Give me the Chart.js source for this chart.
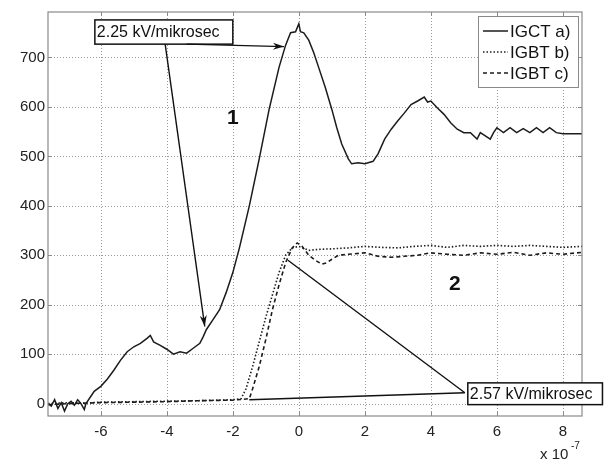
<!DOCTYPE html>
<html>
<head>
<meta charset="utf-8">
<script src="https://cdn.jsdelivr.net/npm/chart.js@4.4.1/dist/chart.umd.min.js"></script>
<style>
  html, body { margin: 0; padding: 0; background: #fff; }
  #wrap { width: 605px; height: 462px; position: relative; }
</style>
</head>
<body>
<div id="wrap"><canvas id="chart" width="605" height="462"></canvas></div>
<script>
// time axis in units of 1e-7 s, voltage in V
const xTicks = [-6, -4, -2, 0, 2, 4, 6, 8];
const yTicks = [0, 100, 200, 300, 400, 500, 600, 700];
const seriesLabels = ['IGCT a)', 'IGBT b)', 'IGBT c)'];

const igctT = [-7.6, -7.5, -7.4, -7.3, -7.2, -7.1, -7.0, -6.9, -6.8, -6.7, -6.6, -6.5, -6.45,
  -6.3, -6.2, -6.0, -5.8, -5.6, -5.4, -5.2, -5.0, -4.8, -4.6, -4.5, -4.4, -4.2, -4.0, -3.8,
  -3.6, -3.4, -3.2, -3.0, -2.9, -2.8, -2.6, -2.4, -2.2, -2.0, -1.8, -1.5, -1.2, -0.9, -0.6,
  -0.4, -0.25, -0.1, 0.0, 0.05, 0.15, 0.3, 0.45, 0.6, 0.8, 1.0, 1.15, 1.3, 1.5, 1.6, 1.8,
  2.0, 2.25, 2.4, 2.6, 2.8, 3.0, 3.2, 3.4, 3.6, 3.8, 3.9, 4.0, 4.2, 4.4, 4.6, 4.8, 5.0, 5.2,
  5.4, 5.5, 5.8, 5.9, 6.0, 6.2, 6.4, 6.6, 6.8, 7.0, 7.2, 7.4, 7.6, 7.8, 8.0, 8.58];
const igctV = [0, -5, 8, -10, 2, -15, 0, 5, -3, 8, 0, -12, 0,
  15, 25, 35, 50, 68, 88, 105, 115, 122, 132, 138, 125, 118, 110, 100,
  105, 102, 112, 122, 135, 150, 170, 190, 225, 265, 315, 400, 495, 595, 680,
  725, 750, 752, 768, 752, 750, 735, 710, 680, 640, 595, 558, 525, 495, 485, 487,
  485, 490, 505, 535, 555, 572, 588, 605, 612, 620, 610, 612, 598, 585, 568, 555, 548, 548,
  535, 548, 535, 548, 558, 548, 558, 548, 556, 548, 558, 548, 558, 548, 546, 546];

const igbtBT = [-7.6, -7.0, -6.5, -6.0, -5.0, -4.0, -3.0, -2.0, -1.75, -1.6, -1.4, -1.2, -1.0,
  -0.8, -0.6, -0.4, -0.2, 0.0, 0.3, 0.6, 1.0, 1.5, 2.0, 2.5, 3.0, 3.5, 4.0, 4.5, 5.0, 5.5,
  6.0, 6.5, 7.0, 7.5, 8.0, 8.58];
const igbtBV = [0, 2, 1, 3, 4, 5, 6, 8, 10, 30, 75, 125, 175,
  220, 265, 300, 315, 318, 310, 312, 313, 315, 318, 316, 315, 318, 320, 316, 320, 318,
  320, 318, 320, 318, 316, 318];

const igbtCT = [-7.6, -7.0, -6.0, -5.0, -4.0, -3.0, -2.0, -1.5, -1.4, -1.2, -1.0, -0.8, -0.6,
  -0.4, -0.2, -0.05, 0.1, 0.3, 0.5, 0.7, 0.85, 1.0, 1.2, 1.5, 2.0, 2.4, 2.8, 3.2, 3.6, 4.0,
  4.5, 5.0, 5.5, 6.0, 6.5, 7.0, 7.5, 8.0, 8.58];
const igbtCV = [-2, 0, 2, 3, 4, 6, 7, 10, 30, 75, 130, 190, 240,
  285, 315, 325, 318, 300, 290, 282, 285, 292, 300, 302, 305, 298, 296, 298, 300, 305,
  302, 300, 305, 302, 306, 300, 305, 302, 306];

const lineColor = '#1c1c1c';
const fontFamily = '"Liberation Sans", Arial, Helvetica, sans-serif';

function toPoints(xs, ys) {
    return xs.map((x, i) => ({ x: x, y: ys[i] }));
}

// annotations, anchored in data units
const annotations = {
    box1: { x1: -6.18, x2: -2.0, y1: 776, y2: 727, text: '2.25 kV/mikrosec' },
    arrows1: [
        { from: [-3.4, 727], to: [-0.45, 722] },
        { from: [-4.05, 727], to: [-2.85, 156] }
    ],
    box2: { x1: 5.12, x2: 9.2, y1: 42, y2: -2, text: '2.57 kV/mikrosec' },
    lines2: [
        { from: [5.03, 22], to: [-0.33, 290] },
        { from: [5.03, 22], to: [-1.5, 8] }
    ],
    labels: [
        { x: -2.0, y: 578, text: '1' },
        { x: 4.73, y: 242, text: '2' }
    ]
};

function drawArrowHead(ctx, x0, y0, x1, y1) {
    const ang = Math.atan2(y1 - y0, x1 - x0);
    const len = 11, half = 3.5;
    ctx.beginPath();
    ctx.moveTo(x1, y1);
    ctx.lineTo(x1 - len * Math.cos(ang) + half * Math.sin(ang), y1 - len * Math.sin(ang) - half * Math.cos(ang));
    ctx.lineTo(x1 - len * 0.7 * Math.cos(ang), y1 - len * 0.7 * Math.sin(ang));
    ctx.lineTo(x1 - len * Math.cos(ang) - half * Math.sin(ang), y1 - len * Math.sin(ang) + half * Math.cos(ang));
    ctx.closePath();
    ctx.fill();
}

const framePlugin = {
    id: 'frame',
    beforeDatasetsDraw(chart) {
        const { ctx, chartArea: a, scales } = chart;
        ctx.save();
        // dotted grid, matlab style
        ctx.strokeStyle = '#9a9a9a';
        ctx.lineWidth = 1;
        ctx.setLineDash([1, 2]);
        ctx.beginPath();
        xTicks.forEach(v => {
            const px = Math.round(scales.x.getPixelForValue(v)) + 0.5;
            ctx.moveTo(px, a.top); ctx.lineTo(px, a.bottom);
        });
        yTicks.forEach(v => {
            const py = Math.round(scales.y.getPixelForValue(v)) + 0.5;
            ctx.moveTo(a.left, py); ctx.lineTo(a.right, py);
        });
        ctx.stroke();
        ctx.setLineDash([]);

        // inward tick marks
        ctx.strokeStyle = '#8a8a8a';
        ctx.beginPath();
        xTicks.forEach(v => {
            const px = Math.round(scales.x.getPixelForValue(v)) + 0.5;
            ctx.moveTo(px, a.bottom); ctx.lineTo(px, a.bottom - 4);
            ctx.moveTo(px, a.top); ctx.lineTo(px, a.top + 4);
        });
        yTicks.forEach(v => {
            const py = Math.round(scales.y.getPixelForValue(v)) + 0.5;
            ctx.moveTo(a.left, py); ctx.lineTo(a.left + 4, py);
            ctx.moveTo(a.right, py); ctx.lineTo(a.right - 4, py);
        });
        ctx.stroke();
        ctx.restore();
    },
    afterDatasetsDraw(chart) {
        const { ctx, chartArea: a, scales } = chart;
        const px = v => scales.x.getPixelForValue(v);
        const py = v => scales.y.getPixelForValue(v);
        ctx.save();
        ctx.strokeStyle = '#8a8a8a';
        ctx.lineWidth = 1.2;
        ctx.strokeRect(a.left, a.top, a.right - a.left, a.bottom - a.top);

        // legend box
        const lx = a.right - 104, ly = a.top + 4, lw = 100, lh = 71;
        ctx.fillStyle = '#fff';
        ctx.fillRect(lx, ly, lw, lh);
        ctx.strokeStyle = '#8a8a8a';
        ctx.lineWidth = 1;
        ctx.strokeRect(lx + 0.5, ly + 0.5, lw, lh);
        const dashes = [[], [1.5, 2], [4, 3]];
        ctx.font = '17px ' + fontFamily;
        ctx.textBaseline = 'middle';
        seriesLabels.forEach((lab, i) => {
            const yy = ly + 15 + i * 21;
            ctx.strokeStyle = lineColor;
            ctx.lineWidth = 1.5;
            ctx.setLineDash(dashes[i]);
            ctx.beginPath();
            ctx.moveTo(lx + 5, yy); ctx.lineTo(lx + 30, yy);
            ctx.stroke();
            ctx.setLineDash([]);
            ctx.fillStyle = '#111';
            ctx.fillText(lab, lx + 32, yy + 1);
        });

        // annotation boxes with text
        ctx.font = '16px ' + fontFamily;
        [annotations.box1, annotations.box2].forEach(b => {
            const x1 = px(b.x1), x2 = px(b.x2), y1 = py(b.y1), y2 = py(b.y2);
            ctx.fillStyle = '#fff';
            ctx.fillRect(x1, y1, x2 - x1, y2 - y1);
            ctx.strokeStyle = '#111';
            ctx.lineWidth = 1.5;
            ctx.strokeRect(x1, y1, x2 - x1, y2 - y1);
            ctx.fillStyle = '#111';
            ctx.textAlign = 'left';
            ctx.textBaseline = 'middle';
            ctx.fillText(b.text, x1 + 2, (y1 + y2) / 2 + 1);
        });

        // arrows and lines
        ctx.strokeStyle = '#111';
        ctx.fillStyle = '#111';
        ctx.lineWidth = 1.4;
        annotations.arrows1.forEach(ar => {
            const x0 = px(ar.from[0]), y0 = py(ar.from[1]), x1 = px(ar.to[0]), y1 = py(ar.to[1]);
            ctx.beginPath(); ctx.moveTo(x0, y0); ctx.lineTo(x1, y1); ctx.stroke();
            drawArrowHead(ctx, x0, y0, x1, y1);
        });
        annotations.lines2.forEach(ln => {
            ctx.beginPath();
            ctx.moveTo(px(ln.from[0]), py(ln.from[1]));
            ctx.lineTo(px(ln.to[0]), py(ln.to[1]));
            ctx.stroke();
        });

        // curve labels
        ctx.font = 'bold 21px ' + fontFamily;
        ctx.textAlign = 'center';
        ctx.textBaseline = 'middle';
        annotations.labels.forEach(l => ctx.fillText(l.text, px(l.x), py(l.y)));

        // exponent label under the x axis
        ctx.font = '15px ' + fontFamily;
        ctx.textAlign = 'left';
        ctx.textBaseline = 'alphabetic';
        ctx.fillStyle = '#222';
        ctx.fillText('x 10', 540, 459);
        ctx.font = '10px ' + fontFamily;
        ctx.fillText('-7', 571, 449);
        ctx.restore();
    }
};

new Chart(document.getElementById('chart').getContext('2d'), {
    type: 'line',
    data: {
        datasets: [
            {
                label: seriesLabels[0],
                data: toPoints(igctT, igctV),
                borderColor: lineColor,
                borderWidth: 1.5
            },
            {
                label: seriesLabels[1],
                data: toPoints(igbtBT, igbtBV),
                borderColor: lineColor,
                borderWidth: 1.6,
                borderDash: [1.5, 2]
            },
            {
                label: seriesLabels[2],
                data: toPoints(igbtCT, igbtCV),
                borderColor: lineColor,
                borderWidth: 1.6,
                borderDash: [4, 3]
            }
        ]
    },
    options: {
        responsive: false,
        animation: false,
        elements: { point: { radius: 0 }, line: { tension: 0, fill: false } },
        layout: { padding: { top: 11, right: 23, left: 0, bottom: 0 } },
        plugins: { legend: { display: false }, tooltip: { enabled: false } },
        scales: {
            x: {
                type: 'linear',
                min: -7.6,
                max: 8.58,
                afterBuildTicks: s => { s.ticks = xTicks.map(v => ({ value: v })); },
                afterFit: s => { s.height = 46; },
                grid: { display: false, drawTicks: false },
                border: { display: false },
                ticks: { color: '#222', padding: 7, maxRotation: 0, font: { size: 15, family: fontFamily } }
            },
            y: {
                type: 'linear',
                min: -25,
                max: 792,
                afterBuildTicks: s => { s.ticks = yTicks.map(v => ({ value: v })); },
                afterFit: s => { s.width = 48; },
                grid: { display: false, drawTicks: false },
                border: { display: false },
                ticks: { color: '#222', padding: 3, font: { size: 15, family: fontFamily } }
            }
        }
    },
    plugins: [framePlugin]
});
</script>
</body>
</html>
